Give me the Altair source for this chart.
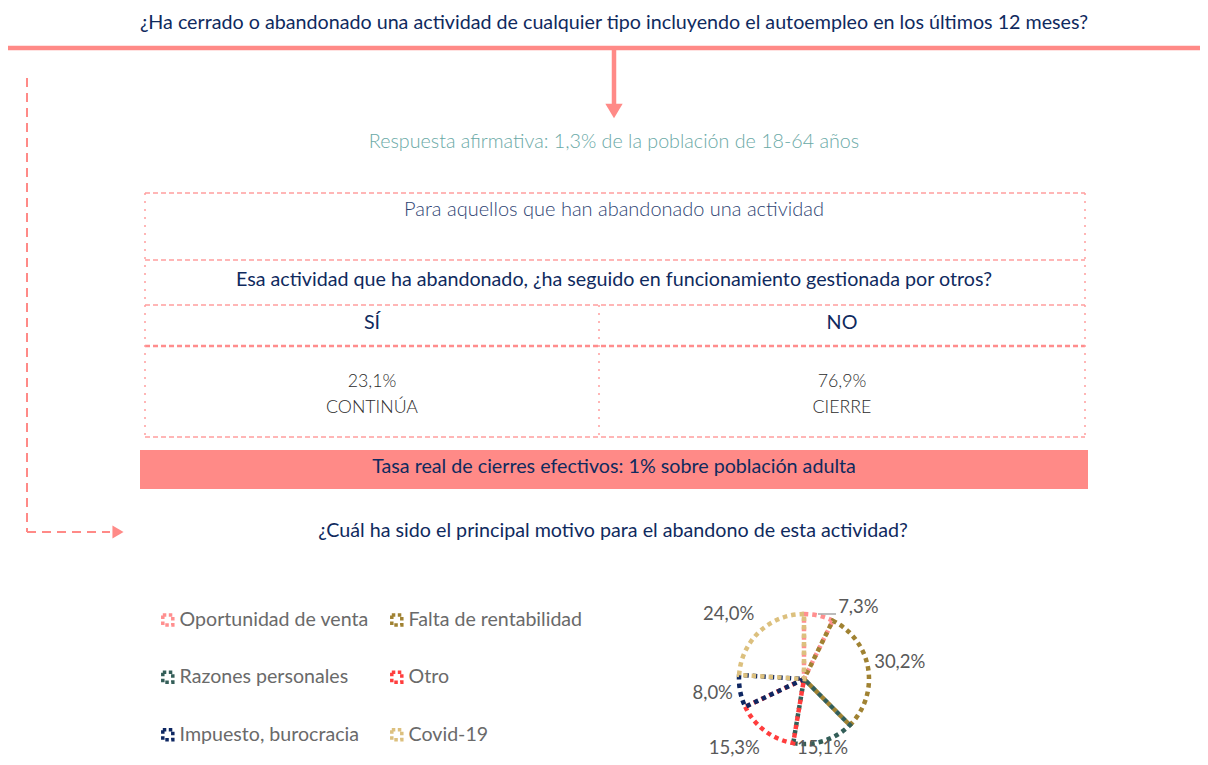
import altair as alt
import pandas as pd

# ---------------- data ----------------
titulo = "¿Ha cerrado o abandonado una actividad de cualquier tipo incluyendo el autoempleo en los últimos 12 meses?"
poblacion_afirmativa = 1.3
subtitulo_grupo = "Para aquellos que han abandonado una actividad"
pregunta_continuidad = "Esa actividad que ha abandonado, ¿ha seguido en funcionamiento gestionada por otros?"
respuestas = ["SÍ", "NO"]
respuestas_pct = [23.1, 76.9]
respuestas_etq = ["CONTINÚA", "CIERRE"]
tasa_real = 1
pregunta_motivo = "¿Cuál ha sido el principal motivo para el abandono de esta actividad?"

motivos = ["Oportunidad de venta", "Falta de rentabilidad", "Razones personales",
           "Otro", "Impuesto, burocracia", "Covid-19"]
motivos_pct = [7.3, 30.2, 15.1, 15.3, 8.0, 24.0]
motivos_color = ["#ff8f8f", "#a08232", "#335e58", "#ff3d3d", "#0e2762", "#dcc07e"]


def es(v, d=1):
    return f"{v:.{d}f}".replace(".", ",")


# ---------------- layout ----------------
W, H, M = 1192, 749, 8
FONT = "Lato"
NAVY = "#0f2a5e"
SALMON = "#ff8a87"
BOXPINK = "#ff9f9f"
# pixel nudges of the pie labels (same order as motivos)
LABEL_DX = [33, 3, -10, -13, 1, -11]
LABEL_DY = [20, -2, -21, -6, -4, 3]

xs = alt.Scale(domain=[M, M + W], nice=False, zero=False)
ys = alt.Scale(domain=[M, M + H], nice=False, zero=False, reverse=True)


def rules(segs, color, width, dash=None):
    df = pd.DataFrame(segs, columns=["x", "y", "x2", "y2"])
    kw = dict(color=color, strokeWidth=width)
    if dash:
        kw["strokeDash"] = dash
    return alt.Chart(df).mark_rule(**kw).encode(
        x=alt.X("x:Q", scale=xs, axis=None),
        y=alt.Y("y:Q", scale=ys, axis=None),
        x2="x2:Q", y2="y2:Q")


def texts(rows, size, color, weight="normal", align="center"):
    df = pd.DataFrame(rows, columns=["x", "y", "t"])
    return alt.Chart(df).mark_text(font=FONT, fontSize=size, color=color,
                                   fontWeight=weight, align=align,
                                   baseline="middle").encode(
        x=alt.X("x:Q", scale=xs, axis=None),
        y=alt.Y("y:Q", scale=ys, axis=None),
        text="t:N")


def marker(x, y, path, size, color):
    df = pd.DataFrame({"x": [x], "y": [y]})
    return alt.Chart(df).mark_point(shape=path, size=size, filled=True,
                                    color=color, opacity=1).encode(
        x=alt.X("x:Q", scale=xs, axis=None),
        y=alt.Y("y:Q", scale=ys, axis=None))


layers = []

# top line + arrow
layers.append(rules([[M, 48, 1208, 48], [614, 48, 614, 106]], SALMON, 4.5))
layers.append(marker(614, 111, "M -1 -0.85 L 1 -0.85 L 0 0.85 Z", 300, SALMON))

# left dashed connector
layers.append(rules([[27, 78, 27, 532], [27, 532, 110, 532]], SALMON, 2, [9, 6]))
layers.append(marker(118, 532, "M -0.85 -1 L 0.85 0 L -0.85 1 Z", 170, SALMON))

# dashed box
layers.append(rules([[145, 193, 1085, 193], [145, 260, 1085, 260],
                     [145, 305, 1085, 305], [145, 437, 1085, 437]],
                    BOXPINK, 1.5, [5, 3]))
layers.append(rules([[145, 346, 1085, 346]], "#ff8d8d", 2.5, [5, 3]))
layers.append(rules([[145, 193, 145, 437], [1085, 193, 1085, 437],
                     [599, 305, 599, 437]], BOXPINK, 1.5, [2, 6]))

# salmon banner
banner = pd.DataFrame({"x": [140], "x2": [1088], "y": [450], "y2": [489]})
layers.append(alt.Chart(banner).mark_rect(color=SALMON).encode(
    x=alt.X("x:Q", scale=xs, axis=None), x2="x2:Q",
    y=alt.Y("y:Q", scale=ys, axis=None), y2="y2:Q"))

# texts
layers.append(texts([[614, 23, titulo],
                     [614, 280, pregunta_continuidad],
                     [372, 323, respuestas[0]],
                     [842, 323, respuestas[1]],
                     [614, 467, f"Tasa real de cierres efectivos: {tasa_real}% sobre población adulta"],
                     [613, 531, pregunta_motivo]], 19.7, NAVY))
layers.append(texts([[614, 142, f"Respuesta afirmativa: {es(poblacion_afirmativa)}% de la población de 18-64 años"]],
                    19.7, "#6aa9a6", weight=300))
layers.append(texts([[614, 210, subtitulo_grupo]], 20, "#2e4473", weight=300))
layers.append(texts([[372, 382, es(respuestas_pct[0]) + "%"],
                     [372, 408, respuestas_etq[0]],
                     [842, 382, es(respuestas_pct[1]) + "%"],
                     [842, 408, respuestas_etq[1]]], 17.8, "#2b2b2b", weight=300))

# pie
pie_df = pd.DataFrame({
    "motivo": motivos,
    "pct": motivos_pct,
    "idx": list(range(len(motivos))),
    "label": [es(v) + "%" for v in motivos_pct],
})
CX, CY = 804 - M, 679 - M

base = alt.Chart(pie_df).encode(
    theta=alt.Theta("pct:Q", stack=True),
    order=alt.Order("idx:Q"),
    x=alt.value(CX), y=alt.value(CY))

pie = base.mark_arc(outerRadius=65, filled=False, strokeWidth=4.5,
                    strokeDash=[4.5, 4]).encode(
    stroke=alt.Stroke("motivo:N",
                      scale=alt.Scale(domain=motivos, range=motivos_color),
                      sort=motivos,
                      legend=alt.Legend(title=None, orient="none",
                                        legendX=150, legendY=602,
                                        direction="horizontal",
                                        columns=2, symbolType="square",
                                        symbolSize=100, symbolStrokeWidth=3.5,
                                        symbolDash=[3.5, 2.5],
                                        symbolFillColor="transparent",
                                        labelFont=FONT, labelFontSize=19.6,
                                        labelColor="#6a6a6a", labelLimit=400,
                                        labelOffset=2, rowPadding=32.5,
                                        columnPadding=15, padding=0)))
layers.append(pie)

for i, cat in enumerate(motivos):
    layers.append(base.transform_calculate(
        t=f"datum.motivo == '{cat}' ? datum.label : ''").mark_text(
        radius=94, dx=LABEL_DX[i], dy=LABEL_DY[i], font=FONT, fontSize=18.5,
        color="#595959").encode(text="t:N"))

layers.append(rules([[818, 614, 836, 614]], "#a6a6a6", 1.5))

chart = alt.layer(*layers).properties(
    width=W, height=H, padding=0,
    autosize=alt.AutoSizeParams(type="none"),
).configure_view(stroke=None)

chart.save("out.html", embed_options={"renderer": "svg", "actions": False})
